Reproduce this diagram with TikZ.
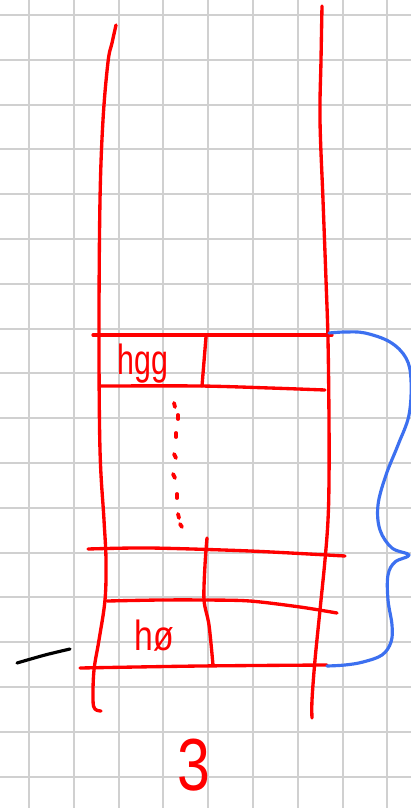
\documentclass[tikz,border=0pt]{standalone}
\usepackage{fontspec}
\setmainfont{Liberation Sans}
\definecolor{gridgray}{RGB}{208,208,208}
\definecolor{penred}{RGB}{255,0,0}
\definecolor{penblue}{RGB}{60,112,240}
\tikzset{
  gridline/.style={draw=gridgray, line width=1.1pt},
  redpen/.style={draw=penred, line width=1.9pt, line cap=round, line join=round},
  bluepen/.style={draw=penblue, line width=1.8pt, line cap=round, line join=round},
  blackpen/.style={draw=black, line width=1.8pt, line cap=round},
  dotpen/.style={draw=penred, line width=2.2pt, line cap=round},
  handtext/.style={text=penred, inner sep=0pt, font=\fontsize{24}{26}\selectfont},
}
\begin{document}
\begin{tikzpicture}[x=0.02cm, y=-0.02cm]
\useasboundingbox (0,0) rectangle (411,808);
\clip (0,0) rectangle (411,808);
\fill[white] (0,0) rectangle (411,808);
% grid
\foreach \i in {0,...,8} { \draw[gridline] ({29+44.8*\i},0) -- ({29+44.8*\i},808); }
\foreach \j in {0,...,17} { \draw[gridline] (0,{15+44.8*\j}) -- (411,{15+44.8*\j}); }
% walls
\draw[redpen] plot[smooth, tension=0.6] coordinates {(116,25) (112,43) (108,62) (103,120) (100,200) (99,330) (100,450) (104,520) (106,560) (105,600) (99,640) (94,670) (93,700) (95,709) (101,711)};
\draw[redpen] plot[smooth, tension=0.6] coordinates {(322,6) (321,60) (320,120) (323,200) (326,280) (328,340) (329,420) (329,480) (328,520) (325,560) (320,610) (315,660) (312,700) (312,718)};
% hgg box
\draw[redpen] (93,335) -- (332,335);
\draw[redpen] plot[smooth] coordinates {(100,386) (200,386) (270,388) (325,390)};
\draw[redpen] (206,337) -- (202,386);
% lower lines
\draw[redpen] plot[smooth] coordinates {(88,549) (150,548) (250,551) (345,556)};
\draw[redpen] plot[smooth] coordinates {(107,601) (160,600) (205,600) (250,601) (300,607) (337,613)};
\draw[redpen] plot[smooth] coordinates {(80,668) (200,666) (327,665)};
\draw[redpen] plot[smooth] coordinates {(207,538) (205,565) (204,600) (209,625) (213,665)};
% dots
\draw[dotpen] (174,403) -- (175,407);
\draw[dotpen] (178,415) -- (178,419);
\draw[dotpen] (176,433) -- (176,437);
\draw[dotpen] (174,454) -- (176,458);
\draw[dotpen] (173,474) -- (175,478);
\draw[dotpen] (177,494) -- (177,498);
\draw[dotpen] (178,514) -- (179,518);
\draw[dotpen] (180,524) -- (182,527);
% texts
\node[handtext, anchor=base west] (hgg) at (117,374) {\scalebox{0.72}[1]{hgg}};
\node[handtext, anchor=base west] (hzero) at (134,650) {\scalebox{0.8}[1]{hø}};
\node[text=penred, inner sep=0pt, anchor=base, font=\fontsize{42}{44}\selectfont] (three) at (194,790) {\scalebox{0.8}[1]{3}};
% brace
\draw[bluepen] plot[smooth, tension=0.6] coordinates {(329,333) (345,332) (365,333) (390,342) (406,358) (411,380) (409,415) (398,445) (386,475) (378,505) (380,530) (392,548) (409,555) (395,562) (388,575) (388,600) (392,625) (391,642) (382,655) (363,662) (345,665) (327,666)};
% black dash
\draw[blackpen] plot[smooth] coordinates {(17,663) (45,655) (70,649)};
\end{tikzpicture}
\end{document}
